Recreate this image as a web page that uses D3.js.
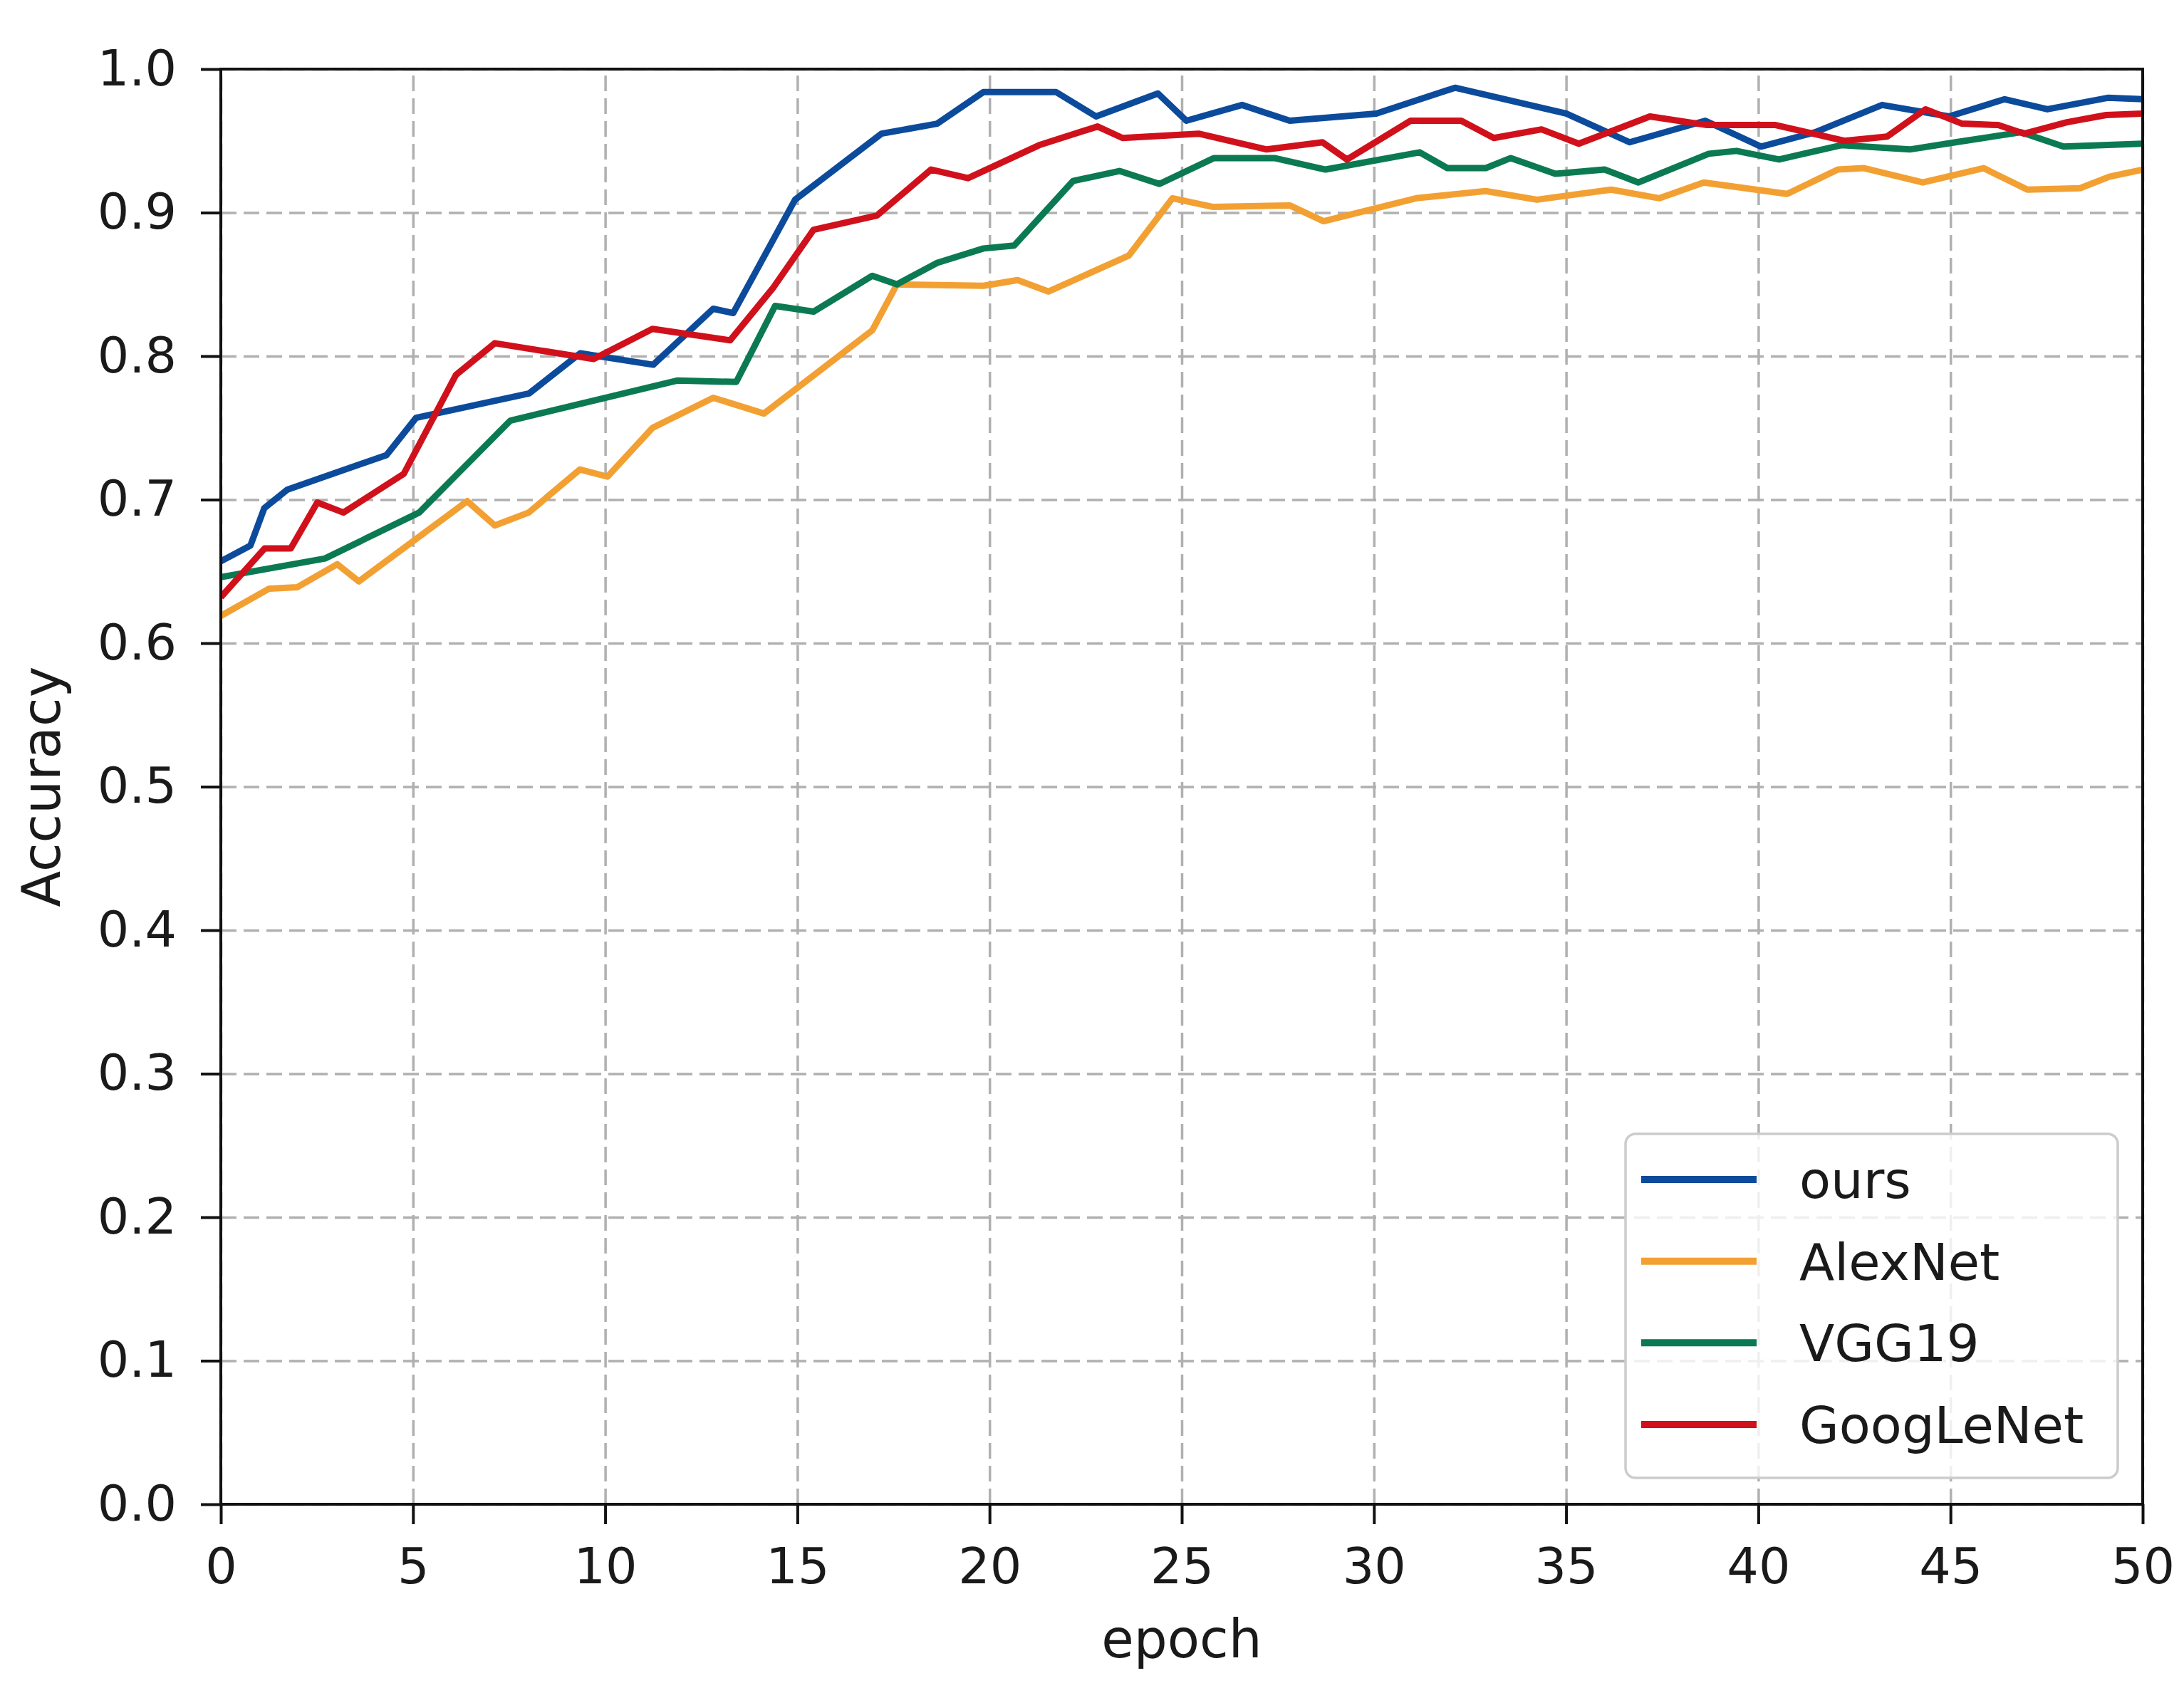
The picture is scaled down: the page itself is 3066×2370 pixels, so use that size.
<!DOCTYPE html>
<html>
<head>
<meta charset="utf-8">
<script src="https://cdn.jsdelivr.net/npm/d3@7"></script>
<style>
  html, body { margin: 0; padding: 0; background: #ffffff; }
  svg { display: block; }
  text { font-family: "DejaVu Sans", sans-serif; fill: #1a1a1a; }
</style>
</head>
<body>
<svg id="chart" width="3066" height="2370"></svg>
<script>
// ---------------- data ----------------
const seriesNames = ["ours", "AlexNet", "VGG19", "GoogLeNet"];
const seriesColors = ["#0c4b9b", "#f3a033", "#0b7a52", "#d0111b"];

const xTicks = [0, 5, 10, 15, 20, 25, 30, 35, 40, 45, 50];
const yTicks = [0.0, 0.1, 0.2, 0.3, 0.4, 0.5, 0.6, 0.7, 0.8, 0.9, 1.0];

const oursEpoch = [0, 0.77, 1.13, 1.73, 4.31, 5.08, 8.02, 9.35, 11.25, 12.81, 13.33, 14.94, 17.19, 18.64, 19.84, 21.73, 22.77, 24.38, 25.12, 26.57, 27.81, 30.06, 32.11, 35.0, 36.65, 38.62, 40.07, 41.48, 43.22, 44.96, 46.41, 47.52, 49.09, 50];
const oursAcc   = [0.657, 0.668, 0.694, 0.707, 0.731, 0.757, 0.774, 0.802, 0.794, 0.833, 0.830, 0.909, 0.955, 0.962, 0.984, 0.984, 0.967, 0.983, 0.964, 0.975, 0.964, 0.969, 0.987, 0.969, 0.949, 0.964, 0.946, 0.956, 0.975, 0.967, 0.979, 0.972, 0.980, 0.979];

const alexEpoch = [0, 1.26, 1.99, 3.03, 3.59, 6.41, 7.13, 8.01, 9.34, 10.06, 11.23, 12.81, 14.13, 16.95, 17.59, 19.84, 20.73, 21.53, 23.62, 24.76, 25.8, 27.81, 28.69, 31.1, 32.91, 34.24, 36.17, 37.43, 38.58, 40.75, 42.07, 42.75, 44.28, 45.86, 47.0, 48.37, 49.13, 50];
const alexAcc   = [0.619, 0.638, 0.639, 0.655, 0.643, 0.699, 0.682, 0.691, 0.721, 0.716, 0.750, 0.771, 0.760, 0.818, 0.850, 0.849, 0.853, 0.845, 0.870, 0.910, 0.904, 0.905, 0.894, 0.910, 0.915, 0.909, 0.916, 0.910, 0.921, 0.913, 0.930, 0.931, 0.921, 0.931, 0.916, 0.917, 0.925, 0.930];

const vggEpoch = [0, 2.71, 5.16, 7.53, 11.87, 13.41, 14.42, 15.42, 16.95, 17.59, 18.64, 19.84, 20.64, 22.17, 23.38, 24.42, 25.84, 27.41, 28.74, 31.19, 31.91, 32.91, 33.56, 34.72, 36.0, 36.88, 38.71, 39.43, 40.54, 42.16, 43.94, 45.13, 46.84, 47.94, 50];
const vggAcc   = [0.646, 0.659, 0.691, 0.755, 0.783, 0.782, 0.835, 0.831, 0.856, 0.850, 0.865, 0.875, 0.877, 0.922, 0.929, 0.920, 0.938, 0.938, 0.930, 0.942, 0.931, 0.931, 0.938, 0.927, 0.930, 0.921, 0.941, 0.943, 0.937, 0.947, 0.944, 0.949, 0.956, 0.946, 0.948];

const googEpoch = [0, 1.14, 1.82, 2.51, 3.19, 4.76, 6.12, 7.13, 9.7, 11.23, 13.25, 14.38, 15.42, 17.07, 18.48, 19.44, 21.29, 22.81, 23.46, 25.44, 27.21, 28.66, 29.3, 30.95, 32.27, 33.12, 34.36, 35.33, 37.18, 38.67, 40.45, 42.24, 43.35, 44.35, 45.3, 46.24, 46.92, 48.03, 49.05, 50];
const googAcc   = [0.632, 0.666, 0.666, 0.698, 0.691, 0.718, 0.787, 0.809, 0.798, 0.819, 0.811, 0.848, 0.888, 0.898, 0.930, 0.924, 0.947, 0.960, 0.952, 0.955, 0.944, 0.949, 0.937, 0.964, 0.964, 0.952, 0.958, 0.948, 0.967, 0.961, 0.961, 0.950, 0.953, 0.972, 0.962, 0.961, 0.955, 0.963, 0.968, 0.969];

const xLabel = "epoch";
const yLabel = "Accuracy";

// ---------------- layout ----------------
const W = 3066, H = 2370;
const plot = { left: 310, right: 3008, top: 97, bottom: 2112 };

const svg = d3.select("#chart");
svg.append("rect").attr("width", W).attr("height", H).attr("fill", "#ffffff");

const x = d3.scaleLinear().domain([0, 50]).range([plot.left, plot.right]);
const y = d3.scaleLinear().domain([0, 1]).range([plot.bottom, plot.top]);

const seriesData = [
  d3.zip(oursEpoch, oursAcc),
  d3.zip(alexEpoch, alexAcc),
  d3.zip(vggEpoch, vggAcc),
  d3.zip(googEpoch, googAcc)
];

// grid
const gridColor = "#b0b0b0";
const gx = svg.append("g")
  .attr("transform", `translate(0,${plot.bottom})`)
  .call(d3.axisBottom(x).tickValues(xTicks).tickSize(-(plot.bottom - plot.top)).tickFormat(""));
gx.select(".domain").remove();
gx.selectAll("line").attr("stroke", gridColor).attr("stroke-width", 3.5).attr("stroke-dasharray", "22,10");

const gy = svg.append("g")
  .attr("transform", `translate(${plot.left},0)`)
  .call(d3.axisLeft(y).tickValues(yTicks).tickSize(-(plot.right - plot.left)).tickFormat(""));
gy.select(".domain").remove();
gy.selectAll("line").attr("stroke", gridColor).attr("stroke-width", 3.5).attr("stroke-dasharray", "22,10");

// lines
const line = d3.line().x(d => x(d[0])).y(d => y(d[1]));
const clipId = "plotclip";
svg.append("clipPath").attr("id", clipId).append("rect")
  .attr("x", plot.left).attr("y", plot.top - 10)
  .attr("width", plot.right - plot.left).attr("height", plot.bottom - plot.top + 10);

svg.append("g").attr("clip-path", `url(#${clipId})`)
  .selectAll("path.series")
  .data(seriesData)
  .join("path")
  .attr("class", "series")
  .attr("d", line)
  .attr("fill", "none")
  .attr("stroke", (d, i) => seriesColors[i])
  .attr("stroke-width", 9)
  .attr("stroke-linejoin", "round")
  .attr("stroke-linecap", "butt");

// axes (ticks + labels)
const axisColor = "#111111";
const ax = svg.append("g")
  .attr("transform", `translate(0,${plot.bottom})`)
  .call(d3.axisBottom(x).tickValues(xTicks).tickSize(28).tickPadding(33).tickFormat(d3.format("d")));
ax.select(".domain").remove();
ax.selectAll("line").attr("stroke", axisColor).attr("stroke-width", 4);
ax.selectAll("text").attr("font-size", 70).attr("fill", "#1a1a1a").attr("font-family", "DejaVu Sans");

const ay = svg.append("g")
  .attr("transform", `translate(${plot.left},0)`)
  .call(d3.axisLeft(y).tickValues(yTicks).tickSize(28).tickPadding(34).tickFormat(d3.format(".1f")));
ay.select(".domain").remove();
ay.selectAll("line").attr("stroke", axisColor).attr("stroke-width", 4);
ay.selectAll("text").attr("font-size", 70).attr("fill", "#1a1a1a").attr("font-family", "DejaVu Sans");

// spines
svg.append("rect")
  .attr("x", plot.left).attr("y", plot.top)
  .attr("width", plot.right - plot.left).attr("height", plot.bottom - plot.top)
  .attr("fill", "none").attr("stroke", axisColor).attr("stroke-width", 4);

// axis labels
svg.append("text")
  .attr("x", (plot.left + plot.right) / 2).attr("y", 2327)
  .attr("text-anchor", "middle").attr("font-size", 74)
  .text(xLabel);

svg.append("text")
  .attr("transform", `translate(84,${(plot.top + plot.bottom) / 2}) rotate(-90)`)
  .attr("text-anchor", "middle").attr("font-size", 74)
  .text(yLabel);

// legend
const legend = { x: 2282, y: 1592, w: 691, h: 483 };
const lg = svg.append("g");
lg.append("rect")
  .attr("x", legend.x).attr("y", legend.y)
  .attr("width", legend.w).attr("height", legend.h)
  .attr("rx", 14).attr("ry", 14)
  .attr("fill", "#ffffff").attr("fill-opacity", 0.8)
  .attr("stroke", "#cccccc").attr("stroke-width", 3.5);

const rowY = d3.scalePoint().domain(seriesNames).range([1656, 2000]);
const items = lg.selectAll("g.item").data(seriesNames).join("g").attr("class", "item");
items.append("line")
  .attr("x1", 2304).attr("x2", 2466)
  .attr("y1", d => rowY(d)).attr("y2", d => rowY(d))
  .attr("stroke", (d, i) => seriesColors[i])
  .attr("stroke-width", 10);
items.append("text")
  .attr("x", 2526).attr("y", d => rowY(d))
  .attr("dy", "0.36em")
  .attr("font-size", 72)
  .text(d => d);
</script>
</body>
</html>
